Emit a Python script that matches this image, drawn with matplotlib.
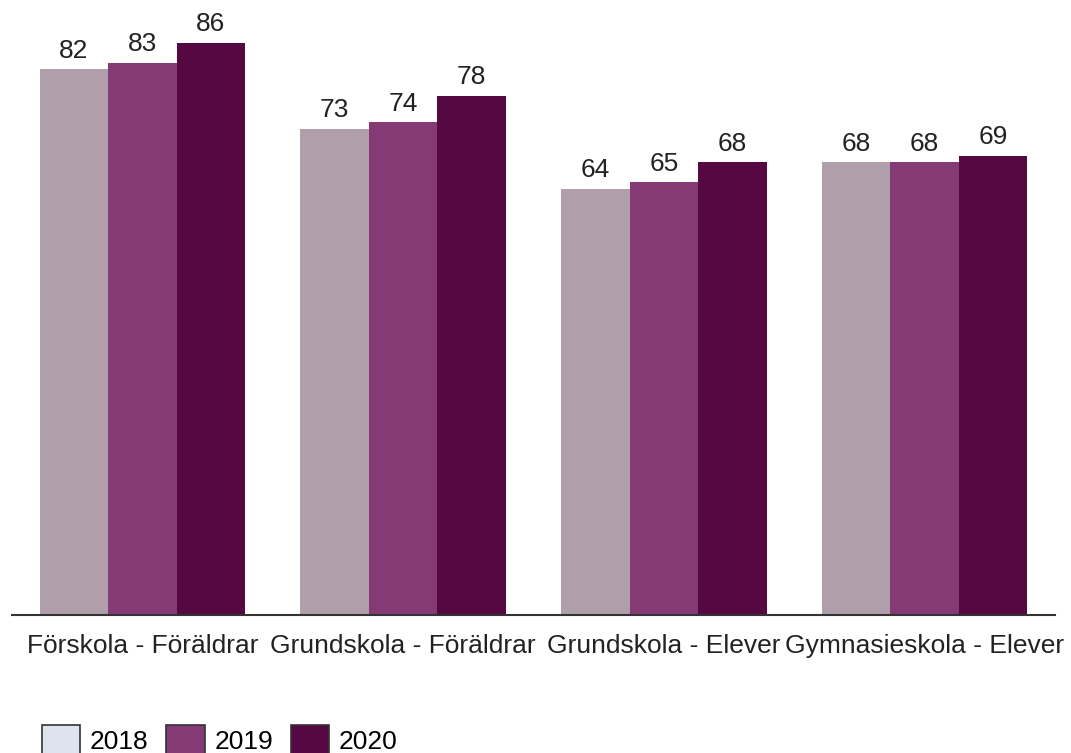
import matplotlib
matplotlib.use("Agg")
import matplotlib.pyplot as plt
from matplotlib.patches import Patch
import numpy as np

plt.rcParams['font.family'] = ['Liberation Sans', 'DejaVu Sans']

categories = ["Förskola - Föräldrar", "Grundskola - Föräldrar", "Grundskola - Elever", "Gymnasieskola - Elever"]
years = ["2018", "2019", "2020"]
v2018 = [82, 73, 64, 68]
v2019 = [83, 74, 65, 68]
v2020 = [86, 78, 68, 69]
series = [v2018, v2019, v2020]
bar_colors = ["#B09EAA", "#843B75", "#550842"]
legend_colors = ["#DDE4EE", "#843B75", "#550842"]

fig = plt.figure(figsize=(10.71, 7.53), dpi=100)
ax = fig.add_axes([12/1071, 1-615/753, (1055-12)/1071, (615-16)/753])

x = np.arange(len(categories))
w = 0.2625
for i, (vals, c) in enumerate(zip(series, bar_colors)):
    pos = x + (i-1)*w
    ax.bar(pos, vals, width=w, color=c, edgecolor='none')
    for p, v in zip(pos, vals):
        ax.text(p, v + 1.0, str(v), ha='center', va='bottom', fontsize=19, color='#222222')

ax.set_xlim(-0.5, 3.5)
ax.set_ylim(0, 90)
ax.set_yticks([])
for s in ['top', 'right', 'left']:
    ax.spines[s].set_visible(False)
ax.spines['bottom'].set_color('#333333')
ax.spines['bottom'].set_linewidth(1.5)
ax.set_xticks(x)
ax.set_xticklabels(categories, fontsize=19, color='#222222')
ax.tick_params(axis='x', length=0, pad=14)

handles = [Patch(facecolor=c, edgecolor='#333333', linewidth=1.2) for c in legend_colors]
fig.legend(handles, years, loc='upper left', bbox_to_anchor=(42/1071, 1-725/753), ncol=3,
           frameon=False, fontsize=19, handlelength=1.45, handleheight=1.45,
           handletextpad=0.37, columnspacing=0.67, borderpad=0, borderaxespad=0)

fig.savefig("out.png", dpi=100)
